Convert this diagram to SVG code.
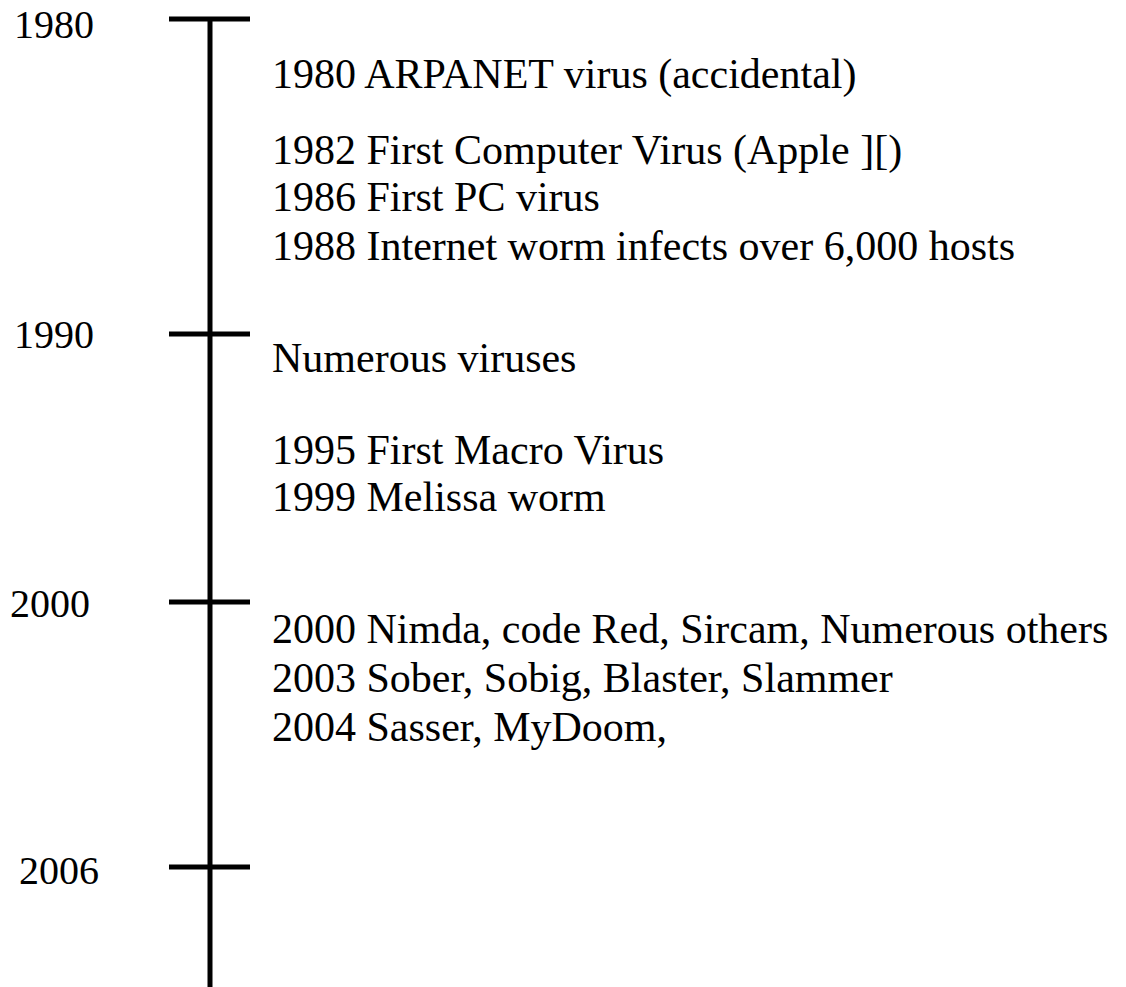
<svg xmlns="http://www.w3.org/2000/svg" width="1126" height="987" viewBox="0 0 1126 987">
<style>
text{font-family:"Liberation Serif","Times New Roman",serif;fill:#000}
.yr{font-size:40px}
.ev{font-size:42px}
.ln{stroke:#000;stroke-width:5;fill:none}
</style>
<rect width="1126" height="987" fill="#fff"/>
<g id="connectors">
<line class="ln" x1="210" y1="17" x2="210" y2="987"/>
<line class="ln" x1="169" y1="19" x2="250" y2="19"/>
<line class="ln" x1="169" y1="334" x2="250" y2="334"/>
<line class="ln" x1="169" y1="602" x2="250" y2="602"/>
<line class="ln" x1="169" y1="867" x2="250" y2="867"/>
</g>
<g id="year-1980"><text class="yr" x="14" y="38">1980</text></g>
<g id="year-1990"><text class="yr" x="14" y="348">1990</text></g>
<g id="year-2000"><text class="yr" x="10" y="617">2000</text></g>
<g id="year-2006"><text class="yr" x="19" y="884">2006</text></g>
<g id="events-1980s">
<text class="ev" x="272" y="88">1980 ARPANET virus (accidental)</text>
<text class="ev" x="272" y="164">1982 First Computer Virus (Apple ][)</text>
<text class="ev" x="272" y="211">1986 First PC virus</text>
<text class="ev" x="272" y="260">1988 Internet worm infects over 6,000 hosts</text>
</g>
<g id="events-1990s">
<text class="ev" x="272" y="372">Numerous viruses</text>
<text class="ev" x="272" y="464">1995 First Macro Virus</text>
<text class="ev" x="272" y="511">1999 Melissa worm</text>
</g>
<g id="events-2000s">
<text class="ev" x="272" y="643">2000 Nimda, code Red, Sircam, Numerous others</text>
<text class="ev" x="272" y="692">2003 Sober, Sobig, Blaster, Slammer</text>
<text class="ev" x="272" y="741">2004 Sasser, MyDoom,</text>
</g>
</svg>
